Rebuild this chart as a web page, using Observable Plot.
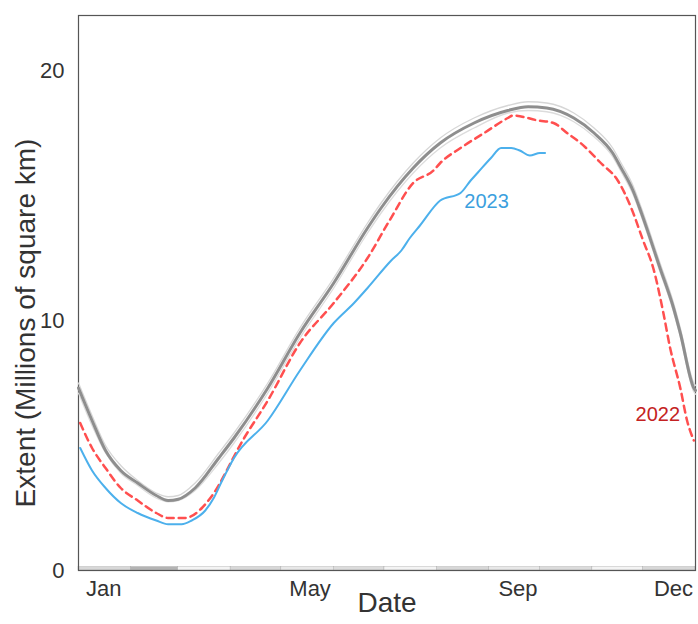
<!DOCTYPE html>
<html>
<head>
<meta charset="utf-8">
<script src="https://cdn.jsdelivr.net/npm/d3@7"></script>
<script src="https://cdn.jsdelivr.net/npm/@observablehq/plot@0.6"></script>
<style>
  html, body { margin: 0; padding: 0; background: #fff; }
  #chart svg { display: block; }
</style>
</head>
<body>
<div id="chart"></div>
<script>
// ---- data (day of year -> extent, millions of km²) ----
const medianDays = [0, 8, 16, 25, 35, 46, 53, 59, 69, 83, 92, 112, 131, 151, 171, 179, 198, 214, 234, 254, 266, 277, 293, 305, 316, 321, 328, 333, 344, 352, 356, 364, 365];
const medianVals = [7.3, 6.0, 4.8, 4.0, 3.5, 3.0, 2.8, 2.85, 3.3, 4.5, 5.3, 7.3, 9.5, 11.5, 13.7, 14.5, 16.1, 17.1, 17.9, 18.4, 18.55, 18.5, 18.1, 17.5, 16.7, 16.1, 15.2, 14.3, 12.1, 10.5, 9.5, 7.3, 7.2];
const faintAVals  = [7.5, 6.2, 5.0, 4.2, 3.6, 3.1, 2.95, 3.0, 3.5, 4.7, 5.5, 7.5, 9.7, 11.7, 13.9, 14.7, 16.3, 17.3, 18.1, 18.6, 18.75, 18.7, 18.3, 17.7, 16.9, 16.3, 15.4, 14.5, 12.3, 10.7, 9.7, 7.5, 7.4];
const faintBVals  = [7.1, 5.8, 4.7, 3.9, 3.4, 2.9, 2.75, 2.8, 3.2, 4.3, 5.1, 7.1, 9.3, 11.3, 13.5, 14.3, 15.9, 16.9, 17.7, 18.3, 18.4, 18.35, 17.95, 17.35, 16.55, 15.95, 15.05, 14.15, 11.95, 10.35, 9.35, 7.15, 7.05];

const days2022 = [1, 8, 16, 25, 35, 46, 53, 63, 73, 78, 98, 112, 131, 151, 171, 184, 198, 210, 214, 226, 240, 254, 257, 272, 281, 289, 297, 309, 319, 327, 334, 340, 346, 350, 356, 360, 364];
const vals2022 = [5.9, 4.9, 4.1, 3.3, 2.8, 2.3, 2.1, 2.1, 2.5, 2.9, 5.3, 6.8, 9.1, 10.7, 12.5, 14.0, 15.5, 16.0, 16.3, 16.9, 17.5, 18.1, 18.2, 18.0, 17.9, 17.5, 17.1, 16.3, 15.6, 14.5, 13.2, 12.1, 10.3, 8.9, 7.3, 6.0, 5.2];

const days2023 = [1, 8, 16, 25, 35, 46, 53, 61, 67, 75, 80, 85, 92, 112, 131, 151, 163, 171, 185, 191, 196, 202, 214, 226, 232, 236, 244, 250, 256, 261, 267, 273, 276];
const vals2023 = [4.9, 4.0, 3.3, 2.7, 2.3, 2.0, 1.85, 1.85, 2.0, 2.4, 2.9, 3.6, 4.5, 6.0, 8.0, 9.9, 10.7, 11.3, 12.4, 12.8, 13.3, 13.8, 14.8, 15.1, 15.6, 15.9, 16.5, 16.9, 16.9, 16.8, 16.6, 16.7, 16.7];

const monthStarts = [0, 31, 59, 90, 120, 151, 181, 212, 243, 273, 304, 334];
const monthEnds   = [31, 59, 90, 120, 151, 181, 212, 243, 273, 304, 334, 365];

const yTicks = [0, 10, 20];
const xTickDays = [15, 137, 260, 352];
const xTickLabels = ["Jan", "May", "Sep", "Dec"];

// ---- build tables ----
const toRows = (days, vals) => days.map((d, i) => ({day: d, v: vals[i]}));
const median = toRows(medianDays, medianVals);
const faintA = toRows(medianDays, faintAVals);
const faintB = toRows(medianDays, faintBVals);
const s2022 = toRows(days2022, vals2022);
const s2023 = toRows(days2023, vals2023);
const months = monthStarts.map((s, i) => ({start: s, end: monthEnds[i], i}));
const stripShades = ["#d8d8d8", "#b4b4b4", "#f4f4f4", "#d8d8d8", "#e8e8e8", "#dcdcdc", "#f4f4f4", "#d8d8d8", "#e8e8e8", "#dcdcdc", "#f4f4f4", "#d8d8d8"];

const chart = Plot.plot({
  width: 698,
  height: 624,
  marginLeft: 78,
  marginRight: 3,
  marginTop: 15,
  marginBottom: 54,
  x: {domain: [0, 365]},
  y: {domain: [0, 22.2]},
  style: {fontFamily: "'Liberation Sans', Arial, sans-serif", color: "#333", background: "#fff"},
  marks: [
    Plot.rect(months, {x1: "start", x2: "end", y1: 0, y2: 0.14, fill: d => stripShades[d.i], stroke: "#aaa", strokeWidth: 0.4}),
    Plot.ruleY([0], {stroke: "#333", strokeWidth: 1.2}),
    Plot.frame({stroke: "#555", strokeWidth: 1.2}),
    Plot.axisY(yTicks, {tickSize: 0, tickPadding: 14, fontSize: 22, label: null}),
    Plot.axisX(xTickDays, {tickSize: 0, tickPadding: 10, fontSize: 22, label: null, tickFormat: (d, i) => xTickLabels[i]}),
    Plot.text(["Extent (Millions of square km)"], {frameAnchor: "left", textAnchor: "middle", rotate: -90, dx: -52, dy: 30, fontSize: 28, fill: "#333"}),
    Plot.text(["Date"], {frameAnchor: "bottom", dy: 41, fontSize: 28, fill: "#333"}),
    Plot.line(faintA, {x: "day", y: "v", stroke: "#d6d6d6", strokeWidth: 1.3, curve: "monotone-x"}),
    Plot.line(faintB, {x: "day", y: "v", stroke: "#dcdcdc", strokeWidth: 1.3, curve: "monotone-x"}),
    Plot.line(median, {x: "day", y: "v", stroke: "#8e8e8e", strokeWidth: 3, curve: "monotone-x"}),
    Plot.line(s2022, {x: "day", y: "v", stroke: "#ff4f4f", strokeWidth: 2.5, strokeDasharray: "7,5", curve: "monotone-x"}),
    Plot.line(s2023, {x: "day", y: "v", stroke: "#4cb0ec", strokeWidth: 2, curve: "monotone-x"}),
    Plot.text(s2023.filter(d => d.day === 226), {x: "day", y: "v", text: () => "2023", dx: 26, dy: 9, fontSize: 20, fill: "#3b9fde"}),
    Plot.text(s2022.filter(d => d.day === 364), {x: "day", y: "v", text: () => "2022", dx: -36, dy: -26, fontSize: 20, fill: "#c42222"})
  ]
});
document.getElementById("chart").appendChild(chart);
</script>
</body>
</html>
